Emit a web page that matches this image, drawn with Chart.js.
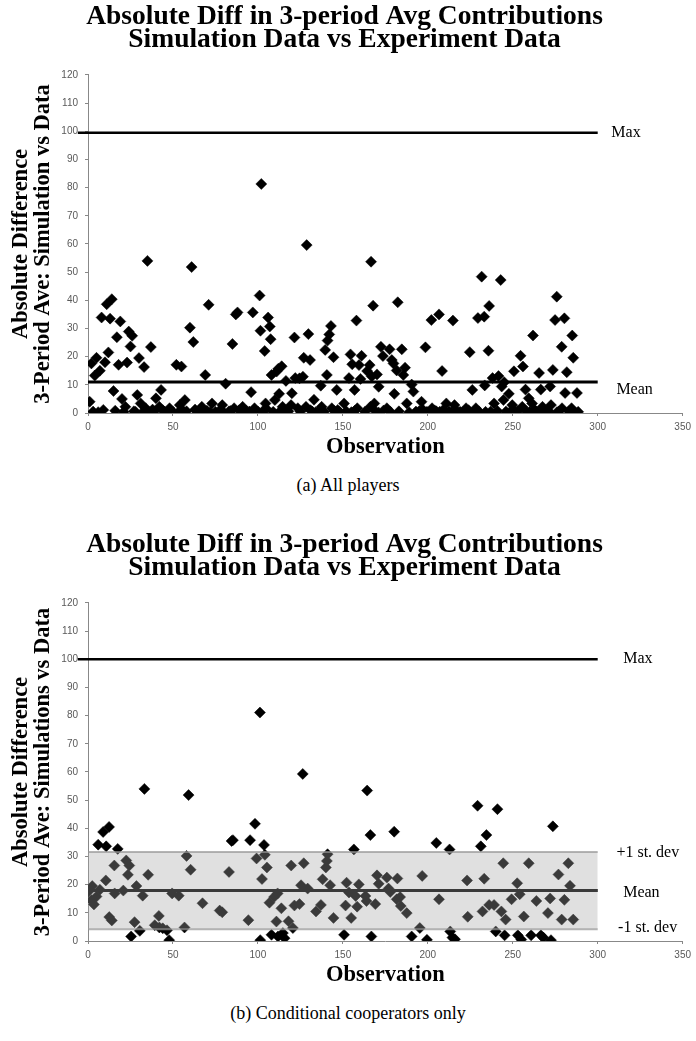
<!DOCTYPE html>
<html>
<head>
<meta charset="utf-8">
<script src="https://cdn.jsdelivr.net/npm/chart.js@4/dist/chart.umd.min.js"></script>
<style>
  html, body { margin: 0; padding: 0; background: #fff; }
  body { width: 696px; height: 1041px; position: relative; overflow: hidden; }
  .panel { position: absolute; left: 0; width: 696px; height: 462px; }
  .caption {
    position: absolute; left: 0; width: 696px; text-align: center;
    font-family: 'Liberation Serif', serif; font-size: 18px; color: #000;
  }
</style>
</head>
<body>
<div class="panel" style="top:0"><canvas id="chartA"></canvas></div>
<div class="caption" style="top:475px">(a) All players</div>
<div class="panel" style="top:528px"><canvas id="chartB"></canvas></div>
<div class="caption" style="top:1003px">(b) Conditional cooperators only</div>

<script>
// --- Data ---
const titleLines = ['Absolute Diff in 3-period Avg Contributions', 'Simulation Data vs Experiment Data'];
const yTitleA = ['Absolute Difference', '3-Period Ave: Simulation vs Data'];
const yTitleB = ['Absolute Difference', '3-Period Ave: Simulations vs Data'];
const xTitle = 'Observation';

// (a) all players: observation number, absolute difference
const obsA = [
  1, 2, 3, 4, 5, 6, 7, 8, 9, 10, 11, 12, 13, 14, 15, 16, 17, 18, 19, 20,
  21, 22, 23, 24, 25, 26, 27, 28, 29, 30, 31, 32, 33, 34, 35, 36, 37, 38, 39, 40,
  42, 43, 44, 45, 47, 48, 50, 52, 53, 54, 55, 56, 57, 58, 60, 61, 62, 63, 64, 66,
  67, 69, 70, 71, 72, 73, 75, 77, 79, 80, 81, 83, 84, 85, 86, 87, 88, 89, 90, 91,
  92, 93, 95, 96, 97, 98, 99, 100, 101, 101.5, 102, 103, 104, 104.5, 105, 106, 107, 107.5, 108, 109,
  110, 111, 112, 112.5, 113, 114, 114.5, 116, 116.5, 117, 118, 119.5, 120, 121.5, 122, 123.5, 124.5, 125, 126.5, 127,
  128.3, 128.7, 129.7, 130.7, 131, 132, 133, 134, 136, 137, 137.5, 139, 139.6, 140.6, 141, 142, 143, 143.5, 144.5, 145,
  146.4, 147, 148, 150.7, 152, 153.6, 154.5, 155, 155.5, 156.9, 157, 158, 158.5, 159.5, 160.4, 161, 163, 164.3, 165.8, 166.2,
  166.6, 167, 167.8, 168.5, 169, 170.1, 171, 171.1, 172.4, 173.6, 174, 175.9, 177.5, 178, 178.8, 179.8, 180.3, 181.7, 182.3, 183,
  184.7, 185.6, 186.6, 187.6, 189, 190.5, 191.5, 193, 195, 196.3, 197, 198.6, 199.5, 201, 202.1, 202.5, 204, 205, 206.6, 207,
  208.4, 209, 210.9, 212.5, 214, 214.8, 215.7, 217, 219, 221, 222.5, 224, 224.7, 226.2, 227, 228.3, 229.5, 230, 231.7, 233.2,
  233.5, 234, 235.7, 236.1, 237, 238.1, 239, 241, 241.6, 242.9, 243.5, 244.5, 245, 246, 247.7, 248.5, 249.7, 250.7, 251, 253,
  254.6, 255.6, 256, 257.5, 258, 259.4, 260, 261.4, 261.9, 263, 264, 265.5, 266.5, 267.5, 268, 270, 271, 272, 272.5, 273.6,
  274.9, 275.9, 276, 277, 278.8, 279, 280.4, 280.8, 281.8, 283, 284.6, 285, 285.6, 286, 287.8, 288.5
];
const diffA = [
  4, 17.6, 0.5, 13.3, 19.6, 0.3, 15, 33.9, 1.1, 18, 38.6, 21.5, 33.5, 40.4, 7.8, 0.8, 26.9, 17.1, 32.5, 5,
  0.4, 2.2, 17.9, 28.9, 23.6, 27.4, 0.6, 0.4, 6.4, 19.5, 3.4, 0.2, 16.3, 1.7, 54, 0.3, 23.4, 1.2, 0.5, 5.2,
  2.2, 8.2, 1.0, 0.5, 0.3, 1.7, 0.4, 17.1, 0.2, 2.8, 16.5, 0.8, 4.6, 0.6, 30.3, 51.8, 25.2, 1.2, 0.5, 0.4,
  2.2, 13.5, 0.8, 38.4, 0.3, 3.4, 0.4, 0.6, 2.8, 0.2, 10.4, 0.6, 0.7, 24.5, 1.7, 35, 35.7, 1.0, 0.5, 2.2,
  0.3, 0.8, 0.5, 7.4, 35.7, 1.7, 0.4, 0.5, 41.7, 29.2, 81.3, 0.7, 22, 3.4, 1.5, 33.9, 30.7, 26.2, 13.5, 0.4,
  4.6, 14.7, 15.7, 6.8, 0.6, 16.6, 2.2, 1.0, 11.4, 0.3, 0.6, 2.8, 7.0, 26.8, 12.4, 1.7, 12.3, 0.5, 12.9, 19.6,
  2.2, 59.6, 28, 18.8, 1.0, 0.5, 4.7, 0.3, 0.8, 9.7, 2.2, 0.4, 22.4, 13.5, 25.7, 27.9, 30.9, 1.7, 19.8, 0.7,
  8.2, 1.1, 0.4, 3.4, 0.6, 12.4, 20.8, 0.3, 17.3, 8.2, 0.8, 32.8, 1.7, 17, 12.1, 20.3, 0.4, 14.9, 17, 2.2,
  53.7, 13, 38.1, 3.4, 0.7, 13.7, 0.2, 9.3, 23.5, 20.2, 0.9, 1.7, 22.6, 0.4, 18.8, 17.6, 6.8, 15.1, 39.3, 0.6,
  22.6, 13.5, 16.1, 3.4, 0.3, 10.1, 7.6, 0.5, 0.7, 4.0, 1.2, 23.3, 0.4, 0.3, 33, 1.7, 0.9, 0.6, 35, 0.4,
  14.9, 1.1, 3.4, 0.5, 0.3, 32.8, 2.8, 0.8, 0.4, 0.5, 1.7, 1.0, 21.6, 8.2, 0.3, 1.7, 33.7, 0.6, 48.4, 34.2,
  9.8, 0.4, 22.1, 38, 0.5, 12.4, 3.4, 0.7, 13.1, 47.2, 9.4, 4.6, 10.9, 0.5, 6.8, 0.4, 2.8, 14.8, 0.9, 0.6,
  20.3, 2.2, 16.5, 8.3, 0.6, 5.2, 0.4, 3.4, 27.5, 1.1, 0.5, 14.2, 8.3, 2.2, 0.4, 0.4, 0.8, 9.4, 2.8, 15.3,
  33, 41.3, 0.3, 0.5, 23.5, 1.7, 33.6, 7.1, 14.5, 0.6, 1.7, 27.5, 19.6, 0.3, 7.1, 0.4
];

// (b) conditional cooperators only
const obsB = [
  0.2, 2, 2.5, 3.5, 5, 6, 7, 8.9, 10.5, 10.7, 12.4, 12.5, 14, 15.5, 15.7, 17.5, 20.8, 22.5, 23.5, 24.3,
  25.4, 27.4, 28.5, 30.5, 32.2, 33.2, 35.4, 39.3, 41.7, 42, 44, 46.5, 47.8, 49.5, 53.4, 56.8, 58, 59.2, 60.4, 67.4,
  77.5, 79, 83, 84.5, 85.3, 94.4, 95.4, 98.3, 99.2, 101.2, 101.4, 102.4, 103.6, 104.1, 105.3, 106.8, 108, 109.5, 110.9, 111.6,
  111.8, 113.8, 114.7, 115.7, 118, 119.6, 120.6, 121.5, 124.5, 125.4, 126.4, 127, 129.3, 134.2, 137.1, 138.1, 140, 140.6, 141, 142.5,
  144.5, 150.7, 151.6, 152.2, 153.6, 154.9, 156.5, 157.5, 158.4, 159.4, 163.3, 163.9, 164.3, 166.2, 166.8, 169.1, 170.1, 171.1, 175.9, 176.9,
  177.9, 180.2, 181.7, 182.1, 183.7, 184.1, 187.6, 190.5, 195.3, 196.7, 199.5, 205, 206.6, 212.8, 213.2, 214.5, 216, 223.1, 223.5, 229.3,
  231.2, 232.2, 233.2, 234.5, 236.1, 239, 240, 241, 243.3, 244.4, 245.2, 245.8, 249.3, 252.6, 253, 254.1, 255, 256.5, 259.4, 260.8,
  263.9, 266.6, 268, 270.7, 272, 272.5, 273.6, 276.9, 278.8, 280.4, 282.7, 283.7, 285.6
];
const diffB = [
  17.5, 14.5, 19.5, 13, 15.8, 34.2, 18.2, 38.7, 21.5, 33.6, 40.5, 8.5, 7.3, 26.8, 16.9, 32.7, 17.9, 28.6, 23.5, 26.8,
  1.6, 6.7, 19.5, 3.6, 16.1, 54, 23.5, 5.6, 8.9, 4.8, 4.5, 3.8, 0.3, 16.9, 16.1, 4.8, 30.2, 51.8, 25.3, 13.4,
  10.8, 10.2, 24.5, 35.5, 35.8, 7.4, 35.8, 41.6, 29.3, 81.1, 0.3, 22, 34.1, 30.6, 26.1, 13.6, 2.2, 15.6, 6.9, 16.9,
  1.6, 11.6, 2.8, 1.0, 7.0, 26.8, 4.6, 12.6, 13.1, 19.8, 59.3, 27.6, 18.6, 10.5, 12.8, 21.9, 26.1, 28.4, 30.8, 19.8,
  8.2, 2.2, 12.6, 20.7, 17.2, 8.2, 32.5, 16, 12.2, 20.1, 16, 14.2, 53.4, 37.6, 1.6, 13.1, 23.3, 20.3, 22.5, 18.6,
  17.4, 38.8, 14.8, 22.2, 15.6, 12.4, 9.9, 1.6, 4.6, 23.1, 0.4, 34.8, 14.8, 32.5, 3.4, 1.2, 0.6, 21.5, 8.6, 48,
  33.6, 10.5, 22.1, 37.6, 12.8, 12.8, 3.4, 46.8, 10.5, 27.6, 2, 7.6, 14.8, 20.5, 2, 16.6, 0.5, 8.7, 27.6, 2,
  14.2, 2, 1.2, 9.9, 15.1, 0.3, 40.7, 23.6, 7.6, 14.6, 27.6, 19.6, 7.6
];

// reference lines: [panel a, panel b]
const lineSpan = [0, 300];
const maxValue = [99.5, 100];
const meanValue = [11.0, 17.9];
const sdLow = 4.2;
const sdHigh = 31.6;

const serif = "'Liberation Serif', 'Times New Roman', serif";
const sans = "'Liberation Sans', Arial, sans-serif";

// text labels next to the reference lines
const labelPlugin = {
  id: 'lineLabels',
  afterDatasetsDraw(chart, args, opts) {
    const { ctx, scales } = chart;
    ctx.save();
    ctx.font = '16px ' + serif;
    ctx.fillStyle = '#000';
    ctx.textAlign = 'left';
    ctx.textBaseline = 'middle';
    opts.items.forEach(item => {
      ctx.fillText(item.text, scales.x.getPixelForValue(item.x), scales.y.getPixelForValue(item.y));
    });
    ctx.restore();
  }
};

function lineData(y, from) {
  return [{ x: from, y: y }, { x: lineSpan[1], y: y }];
}

function makeChart(canvasId, xs, ys, yTitle, idx, labels, withBand) {
  const points = xs.map((x, i) => ({ x: x, y: ys[i] }));
  const datasets = [
    {
      data: points,
      pointStyle: 'rectRot',
      pointRadius: 5.5,
      backgroundColor: '#000',
      borderColor: '#000',
      borderWidth: 0.5,
      order: 5
    },
    {
      data: lineData(maxValue[idx], -6),
      showLine: true,
      borderColor: '#000',
      borderWidth: 2.5,
      pointRadius: 0,
      clip: false,
      order: 4
    },
    {
      data: lineData(meanValue[idx], lineSpan[0]),
      showLine: true,
      borderColor: '#000',
      borderWidth: 3,
      pointRadius: 0,
      order: 4
    }
  ];
  if (withBand) {
    datasets.push({
      data: lineData(sdLow, lineSpan[0]),
      showLine: true,
      borderColor: 'rgba(150,150,150,0.7)',
      borderWidth: 2,
      pointRadius: 0,
      order: 1
    });
    datasets.push({
      data: lineData(sdHigh, lineSpan[0]),
      showLine: true,
      borderColor: 'rgba(150,150,150,0.7)',
      borderWidth: 2,
      pointRadius: 0,
      fill: '-1',
      backgroundColor: 'rgba(166,166,166,0.35)',
      order: 0
    });
  }

  return new Chart(document.getElementById(canvasId), {
    type: 'scatter',
    data: { datasets: datasets },
    options: {
      responsive: true,
      maintainAspectRatio: false,
      animation: false,
      devicePixelRatio: 1,
      events: [],
      layout: { padding: { left: 0, right: 7, top: 0, bottom: 0 } },
      plugins: {
        legend: { display: false },
        tooltip: { enabled: false },
        title: {
          display: true,
          text: titleLines,
          color: '#000',
          font: { family: serif, size: 27.5, weight: 'bold', lineHeight: 0.85 },
          padding: { top: 5, bottom: 23.2 }
        },
        lineLabels: { items: labels }
      },
      scales: {
        x: {
          type: 'linear',
          min: 0,
          max: 350,
          afterFit: s => { s.height = 49; },
          ticks: { stepSize: 50, color: '#595959', padding: 5, font: { family: sans, size: 10 } },
          grid: { drawOnChartArea: false, drawTicks: true, tickLength: 3, color: '#888' },
          border: { display: true, color: '#888', width: 1 },
          title: {
            display: true,
            text: xTitle,
            color: '#000',
            font: { family: serif, size: 22.5, weight: 'bold', lineHeight: 1.2 },
            padding: { top: 0, bottom: 1 }
          }
        },
        y: {
          type: 'linear',
          min: 0,
          max: 120,
          afterFit: s => { s.width = 88; },
          ticks: { stepSize: 10, color: '#595959', padding: 7, font: { family: sans, size: 10 } },
          grid: { drawOnChartArea: false, drawTicks: true, tickLength: 3, color: '#888' },
          border: { display: true, color: '#888', width: 1 },
          title: {
            display: true,
            text: yTitle,
            color: '#000',
            font: { family: serif, size: 22.5, weight: 'bold', lineHeight: 0.98 },
            padding: { top: 10, bottom: 0 }
          }
        }
      }
    },
    plugins: [labelPlugin]
  });
}

makeChart('chartA', obsA, diffA, yTitleA, 0, [
  { text: 'Max', x: 308, y: 99.5 },
  { text: 'Mean', x: 311, y: 8.2 }
], false);

makeChart('chartB', obsB, diffB, yTitleB, 1, [
  { text: 'Max', x: 315, y: 100 },
  { text: '+1 st. dev', x: 311, y: 31.4 },
  { text: 'Mean', x: 315, y: 17.2 },
  { text: '-1 st. dev', x: 312, y: 4.6 }
], true);
</script>
</body>
</html>
